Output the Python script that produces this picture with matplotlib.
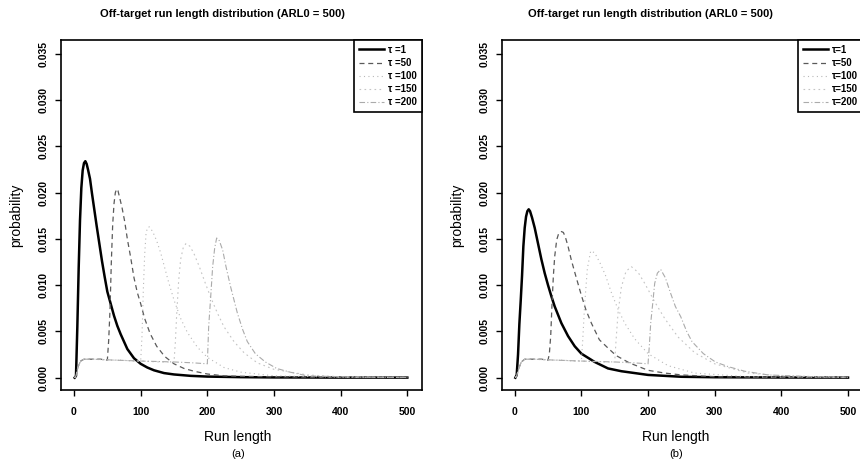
import matplotlib
matplotlib.use("Agg")
import matplotlib.pyplot as plt

plt.rcParams['font.family'] = ['Liberation Sans', 'DejaVu Sans']

# ---------------- data: panel (a) ----------------
a_x_t1 = [1, 3, 5, 7, 9, 11, 13, 15, 17, 19, 21, 24, 27, 30, 34, 38, 42, 46, 50, 55, 60, 65, 70,
          80, 90, 100, 110, 120, 135, 150, 175, 200, 250, 300, 400, 500]
a_y_t1 = [0.0, 0.0002, 0.0055, 0.0118, 0.0170, 0.0205, 0.0224, 0.0232, 0.0234, 0.0231, 0.0225,
          0.0215, 0.0199, 0.0184, 0.0164, 0.0145, 0.0126, 0.0109, 0.0093, 0.0080, 0.0067, 0.0056,
          0.0047, 0.0031, 0.0021, 0.0015, 0.0011, 0.0008, 0.0005, 0.00035, 0.0002, 0.00012,
          0.00006, 0.00003, 0.00001, 0.00001]

a_x_t50 = [1, 3, 6, 10, 15, 20, 30, 40, 50, 52, 54, 56, 58, 60, 62, 64, 66, 68, 72, 76, 80, 85,
           90, 95, 100, 106, 114, 124, 136, 150, 165, 180, 200, 225, 250, 300, 400, 500]
a_y_t50 = [0.0, 0.0002, 0.0012, 0.0018, 0.0020, 0.0020, 0.0020, 0.0020, 0.0019, 0.0040, 0.0073,
           0.0125, 0.0165, 0.0188, 0.0200, 0.0204, 0.0202, 0.0196, 0.0184, 0.0169, 0.0150,
           0.0130, 0.0108, 0.0092, 0.0080, 0.0064, 0.0048, 0.0034, 0.0023, 0.0015, 0.0010,
           0.0007, 0.0004, 0.0002, 0.00015, 0.0001, 0.00003, 0.00001]

a_x_t100 = [1, 3, 6, 10, 15, 30, 50, 70, 90, 100, 102, 104, 106, 108, 110, 113, 118, 124, 130,
            136, 142, 150, 160, 170, 185, 200, 225, 250, 300, 400, 500]
a_y_t100 = [0.0, 0.0002, 0.0012, 0.0018, 0.0020, 0.0020, 0.0019, 0.0019, 0.0018, 0.0018, 0.0045,
            0.0095, 0.0133, 0.0155, 0.0162, 0.0163, 0.0158, 0.0148, 0.0135, 0.0119, 0.0103,
            0.0084, 0.0064, 0.0049, 0.0033, 0.0022, 0.0011, 0.0006, 0.0002, 0.00005, 0.00002]

a_x_t150 = [1, 3, 6, 10, 15, 30, 60, 100, 130, 150, 152, 154, 157, 160, 164, 168, 174, 180, 188,
            196, 205, 215, 225, 240, 255, 275, 300, 350, 400, 500]
a_y_t150 = [0.0, 0.0002, 0.0012, 0.0018, 0.0020, 0.0020, 0.0019, 0.0018, 0.0017, 0.0017, 0.0038,
            0.0068, 0.0105, 0.0128, 0.0141, 0.0145, 0.0142, 0.0134, 0.0120, 0.0104, 0.0087,
            0.0070, 0.0055, 0.0039, 0.0027, 0.0016, 0.0009, 0.0003, 0.0001, 0.00003]

a_x_t200 = [1, 3, 6, 10, 15, 30, 60, 100, 150, 180, 200, 202, 205, 208, 211, 214, 218, 223, 228,
            235, 240, 245, 253, 260, 272, 287, 304, 324, 350, 400, 450, 500]
a_y_t200 = [0.0, 0.0002, 0.0012, 0.0018, 0.0020, 0.0020, 0.0019, 0.0018, 0.0017, 0.0016, 0.0015,
            0.0055, 0.0087, 0.0120, 0.0140, 0.0151, 0.0148, 0.0138, 0.0120, 0.0098, 0.0084,
            0.0070, 0.0052, 0.0039, 0.0026, 0.0017, 0.0010, 0.0006, 0.0002, 0.0001, 0.00005,
            0.00003]

# ---------------- data: panel (b) ----------------
b_x_t1 = [1, 3, 5, 7, 9, 11, 13, 15, 17, 19, 21, 23, 26, 30, 35, 40, 45, 50, 55, 60, 70, 80, 90,
          100, 120, 140, 160, 180, 200, 250, 300, 400, 500]
b_y_t1 = [0.0, 0.0003, 0.0025, 0.0058, 0.0083, 0.0110, 0.0142, 0.0162, 0.0174, 0.0180, 0.0182,
          0.0180, 0.0173, 0.0162, 0.0145, 0.0128, 0.0113, 0.0100, 0.0088, 0.0077, 0.0059,
          0.0045, 0.0034, 0.0026, 0.0017, 0.0010, 0.0007, 0.0005, 0.0003, 0.0001, 0.00005,
          0.00002, 0.00001]

b_x_t50 = [1, 3, 6, 10, 15, 20, 30, 40, 50, 52, 54, 56, 58, 60, 63, 66, 70, 73, 76, 80, 85, 92,
           100, 107, 115, 127, 140, 152, 172, 200, 225, 250, 300, 400, 500]
b_y_t50 = [0.0, 0.0002, 0.0010, 0.0017, 0.0020, 0.0020, 0.0020, 0.0020, 0.0019, 0.0026, 0.0045,
           0.0080, 0.0110, 0.0131, 0.0149, 0.0156, 0.0158, 0.0157, 0.0152, 0.0142, 0.0127,
           0.0109, 0.0089, 0.0073, 0.0059, 0.0041, 0.0032, 0.0024, 0.0016, 0.0008, 0.0005,
           0.0003, 0.0001, 0.00003, 0.00001]

b_x_t100 = [1, 3, 6, 10, 15, 30, 50, 70, 90, 100, 102, 105, 109, 114, 120, 128, 136, 145, 155,
            165, 180, 200, 230, 270, 350, 500]
b_y_t100 = [0.0, 0.0002, 0.0010, 0.0017, 0.0020, 0.0020, 0.0019, 0.0019, 0.0018, 0.0018, 0.0040,
            0.0080, 0.0118, 0.0137, 0.0135, 0.0124, 0.0111, 0.0092, 0.0074, 0.0059, 0.0042,
            0.0026, 0.0013, 0.0005, 0.0001, 0.00003]

b_x_t150 = [1, 3, 6, 10, 15, 30, 60, 100, 130, 150, 152, 155, 160, 167, 175, 185, 195, 210, 225,
            245, 270, 300, 350, 400, 500]
b_y_t150 = [0.0, 0.0002, 0.0010, 0.0017, 0.0020, 0.0020, 0.0019, 0.0018, 0.0017, 0.0017, 0.0040,
            0.0070, 0.0098, 0.0115, 0.0120, 0.0114, 0.0102, 0.0082, 0.0064, 0.0044, 0.0027,
            0.0015, 0.0005, 0.0002, 0.00005]

b_x_t200 = [1, 3, 6, 10, 15, 30, 60, 100, 150, 180, 200, 202, 204, 207, 210, 214, 219, 226, 234,
            241, 249, 258, 266, 283, 301, 320, 345, 380, 450, 500]
b_y_t200 = [0.0, 0.0002, 0.0010, 0.0017, 0.0020, 0.0020, 0.0019, 0.0018, 0.0017, 0.0016, 0.0015,
            0.0035, 0.0059, 0.0080, 0.0102, 0.0113, 0.0117, 0.0108, 0.0091, 0.0077, 0.0066,
            0.0050, 0.0039, 0.0026, 0.0017, 0.0012, 0.0007, 0.0003, 0.0001, 0.00005]

labels_a = ["τ =1", "τ =50", "τ =100", "τ =150", "τ =200"]
labels_b = ["τ=1", "τ=50", "τ=100", "τ=150", "τ=200"]
x_ticks = [0, 100, 200, 300, 400, 500]
y_ticks = [0.000, 0.005, 0.010, 0.015, 0.020, 0.025, 0.030, 0.035]
title_text = "Off-target run length distribution (ARL0 = 500)"

styles = [
    dict(color="black", lw=1.8, ls="-"),
    dict(color="#5a5a5a", lw=0.9, ls=(0, (4, 3))),
    dict(color="#b8b8b8", lw=0.8, ls=(0, (1, 3))),
    dict(color="#c4c4c4", lw=0.8, ls=(0, (1.5, 3))),
    dict(color="#ababab", lw=0.8, ls=(0, (5, 2, 1, 2))),
]

fig = plt.figure(figsize=(8.6, 4.63), dpi=100)
W, H = 860.0, 463.0


def panel(left_px, series, labels, sub, xlabel_cx, title_cx, ylab_x):
    ax = fig.add_axes([left_px / W, (H - 390) / H, 361 / W, 350 / H])
    for (xs, ys), st, lab in zip(series, styles, labels):
        ax.plot(xs, ys, label=lab, **st)
    ax.set_xlim(-19.5, 522)
    ax.set_ylim(-0.00133, 0.0365)
    ax.set_xticks(x_ticks)
    ax.set_yticks(y_ticks)
    ax.set_xticklabels([str(t) for t in x_ticks], fontsize=7.5, fontweight="bold")
    ax.set_yticklabels(["%.3f" % t for t in y_ticks], fontsize=7.5, fontweight="bold",
                       rotation=90, va="center")
    ax.tick_params(axis="both", direction="out", length=4, width=1, color="black")
    ax.tick_params(axis="x", pad=8)
    ax.tick_params(axis="y", pad=5)
    for s in ax.spines.values():
        s.set_linewidth(1.2)
        s.set_color("black")
    leg = ax.legend(loc="upper right", borderaxespad=0, fancybox=False, framealpha=1,
                    edgecolor="black", handlelength=2.6, labelspacing=0.32,
                    borderpad=0.5, handletextpad=0.4, prop={"weight": "bold", "size": 7})
    leg.get_frame().set_linewidth(1.2)
    fig.text(title_cx / W, 1 - 14 / H, title_text, ha="center", va="center",
             fontsize=8, fontweight="bold")
    fig.text(xlabel_cx / W, 1 - 437 / H, "Run length", ha="center", va="center", fontsize=10)
    fig.text(xlabel_cx / W, 1 - 454 / H, sub, ha="center", va="center", fontsize=8)
    fig.text(ylab_x / W, 1 - 215 / H, "probability", ha="center", va="center",
             rotation=90, fontsize=10)
    return ax


panel(61, [(a_x_t1, a_y_t1), (a_x_t50, a_y_t50), (a_x_t100, a_y_t100),
           (a_x_t150, a_y_t150), (a_x_t200, a_y_t200)],
      labels_a, "(a)", 238, 222, 16)
panel(501.7, [(b_x_t1, b_y_t1), (b_x_t50, b_y_t50), (b_x_t100, b_y_t100),
              (b_x_t150, b_y_t150), (b_x_t200, b_y_t200)],
      labels_b, "(b)", 676, 650, 457)

fig.savefig("out.png", dpi=100)
